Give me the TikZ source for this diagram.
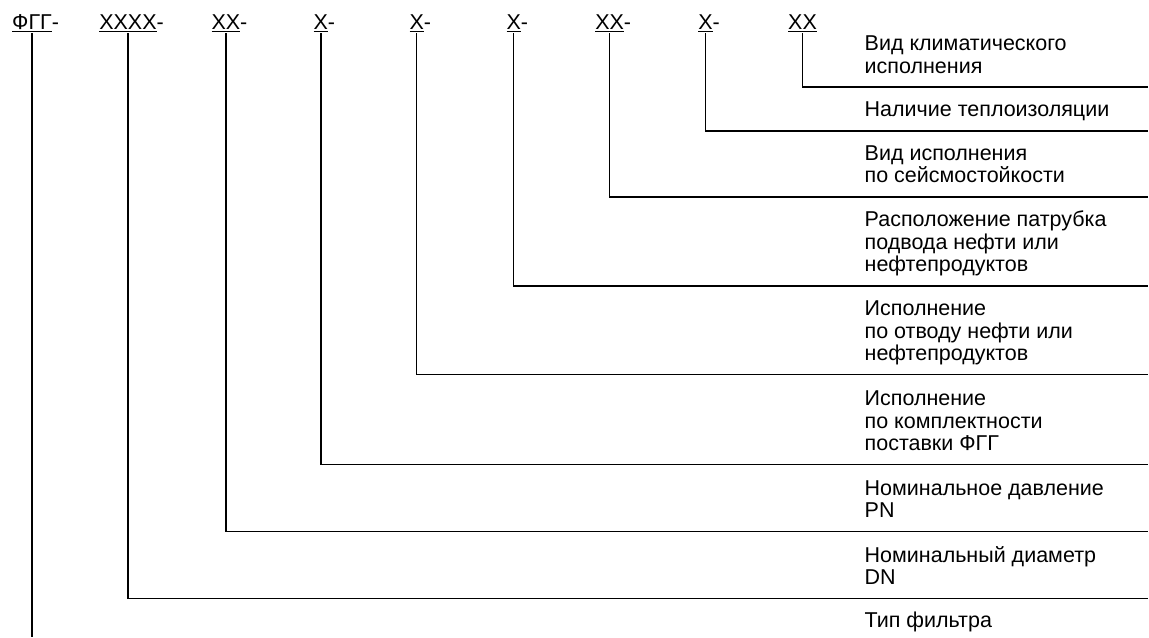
\documentclass[tikz,border=0pt]{standalone}
\usepackage{fontspec}
\setmainfont{Liberation Sans}
\usetikzlibrary{positioning,calc}
\definecolor{ink}{HTML}{000000}
\definecolor{paper}{HTML}{FFFFFF}
\newcommand{\TextX}{865}
\newcommand{\RightX}{1149}

\begin{document}
\begin{tikzpicture}[x=1pt, y=-1pt, ink,
    font=\fontsize{21.5}{22.5}\selectfont,
    code/.style={anchor=base, inner sep=1pt},
    desc/.style={anchor=south west, inner sep=0pt, align=left},
    lead/.style={line width=1.4pt, draw=ink},
  ]
% --- Background --------------------------------------------------------------------
\fill[paper] (0,0) rectangle (1149,637);

% --- Code: ФГГ-XXXX-XX-X-X-X-XX-X-XX ---------------------------------------------------
\node[code] (c1) at (32,30)  {\underline{ФГГ}\rlap{-}};
\node[code] (c2) at (128,30) {\underline{XXXX}\rlap{-}};
\node[code] (c3) at (226,30) {\underline{XX}\rlap{-}};
\node[code] (c4) at (321,30) {\underline{X}\rlap{-}};
\node[code] (c5) at (417,30) {\underline{X}\rlap{-}};
\node[code] (c6) at (514,30) {\underline{X}\rlap{-}};
\node[code] (c7) at (610,30) {\underline{XX}\rlap{-}};
\node[code] (c8) at (706,30) {\underline{X}\rlap{-}};
\node[code] (c9) at (803,30) {\underline{XX}};

% --- Line ends on the right edge -------------------------------------------------------
\coordinate (e1) at (32,637);
\coordinate (e2) at (\RightX,599);
\coordinate (e3) at (\RightX,532);
\coordinate (e4) at (\RightX,465);
\coordinate (e5) at (\RightX,375);
\coordinate (e6) at (\RightX,286);
\coordinate (e7) at (\RightX,197);
\coordinate (e8) at (\RightX,131);
\coordinate (e9) at (\RightX,87);

% --- Descriptions ----------------------------------------------------------------------
\node[desc] (d9) at (\TextX,80)  {Вид климатического\\исполнения\strut};
\node[desc] (d8) at (\TextX,124) {Наличие теплоизоляции\strut};
\node[desc] (d7) at (\TextX,190) {Вид исполнения\\по сейсмостойкости\strut};
\node[desc] (d6) at (\TextX,279) {Расположение патрубка\\подвода нефти или\\нефтепродуктов\strut};
\node[desc] (d5) at (\TextX,368) {Исполнение\\по отводу нефти или\\нефтепродуктов\strut};
\node[desc] (d4) at (\TextX,458) {Исполнение\\по комплектности\\поставки ФГГ\strut};
\node[desc] (d3) at (\TextX,525) {Номинальное давление\\PN\strut};
\node[desc] (d2) at (\TextX,592) {Номинальный диаметр\\DN\strut};
\node[anchor=base west, inner sep=0pt] (d1) at (\TextX,628) {Тип фильтра};

% --- Leads (drawn last) ----------------------------------------------------------------
\draw[lead] (c1.south) -- (e1);
\draw[lead] (c2.south) |- (e2);
\draw[lead] (c3.south) |- (e3);
\draw[lead] (c4.south) |- (e4);
\draw[lead] (c5.south) |- (e5);
\draw[lead] (c6.south) |- (e6);
\draw[lead] (c7.south) |- (e7);
\draw[lead] (c8.south) |- (e8);
\draw[lead] (c9.south) |- (e9);
\end{tikzpicture}
\end{document}
